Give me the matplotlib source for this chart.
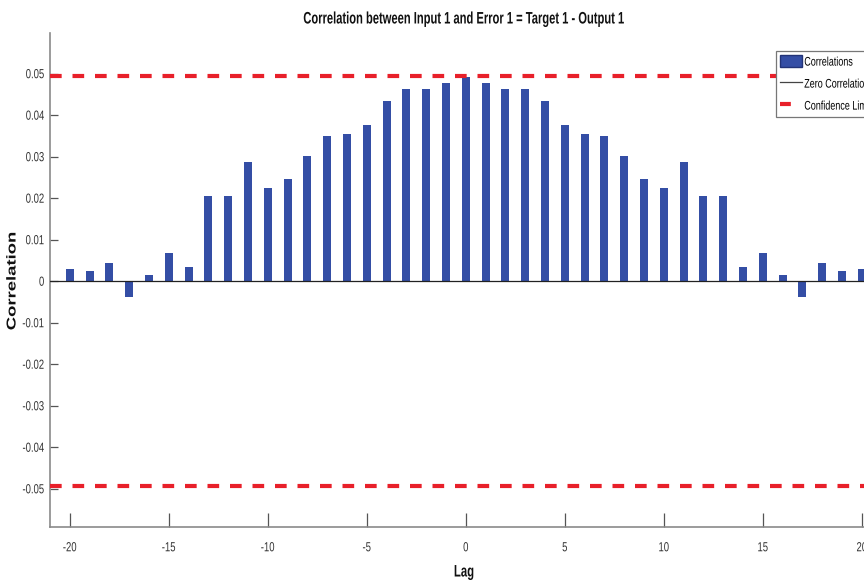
import numpy as np
import matplotlib
matplotlib.use('Agg')
import matplotlib.pyplot as plt
import matplotlib.patheffects as pe
from matplotlib.transforms import Affine2D
from matplotlib.lines import Line2D
from matplotlib.patches import Patch

lags = np.arange(-20, 21)
# correlation for lags 0..20, mirrored for the negative side
half = [0.0492, 0.0478, 0.0462, 0.0462, 0.0435, 0.0376, 0.0355, 0.0349,
        0.0302, 0.0247, 0.0224, 0.0287, 0.0206, 0.0206, 0.0035, 0.0067,
        0.0015, -0.0039, 0.0043, 0.0024, 0.0030]
corr = half[:0:-1] + half
conf_limit = 0.0494
legend_labels = ['Correlations', 'Zero Correlation', 'Confidence Limit']


class Squeeze(pe.AbstractPathEffect):
    """Narrow the glyphs horizontally (the reference uses a condensed face)."""
    def __init__(self, sx=0.7, anchor=0.5):
        super().__init__()
        self.sx = sx
        self.anchor = anchor

    def draw_path(self, renderer, gc, tpath, affine, rgbFace=None):
        ext = tpath.get_extents(affine)
        cx = ext.x0 + self.anchor * ext.width
        t = affine + Affine2D().translate(-cx, 0).scale(self.sx, 1).translate(cx, 0)
        renderer.draw_path(gc, tpath, t, rgbFace)


plt.rcParams['font.family'] = ['Liberation Sans', 'DejaVu Sans']
plt.rcParams['axes.unicode_minus'] = False

fig = plt.figure(figsize=(8.64, 5.8), dpi=100)
ax = fig.add_axes([50 / 864, 53 / 580, 831.6 / 864, 494 / 580])

bar_color = '#344ea5'
ax.bar(lags, corr, width=0.4, color=bar_color, edgecolor='none', zorder=2)
ax.axhline(0, color='#222222', lw=0.9, zorder=3)
dash = dict(color='#e8202a', lw=3.0, dashes=(2.8, 2.6), zorder=4)
ax.axhline(conf_limit, **dash)
ax.axhline(-conf_limit, **dash)

ax.set_xlim(-21, 21)
ax.set_ylim(-0.0592, 0.0598)
ax.set_xticks(np.arange(-20, 21, 5))
ax.set_yticks(np.arange(-0.05, 0.051, 0.01))
ax.set_yticklabels(['-0.05', '-0.04', '-0.03', '-0.02', '-0.01', '0',
                    '0.01', '0.02', '0.03', '0.04', '0.05'])

for s in ['top', 'right']:
    ax.spines[s].set_visible(False)
for s in ['left', 'bottom']:
    ax.spines[s].set_color('#8a8a8a')
    ax.spines[s].set_linewidth(1.2)
ax.tick_params(axis='x', direction='in', length=10, width=0.9, color='#555555',
               labelsize=9.5, labelcolor='#333333', pad=11)
ax.tick_params(axis='y', direction='in', length=6, width=0.9, color='#555555',
               labelsize=9.5, labelcolor='#333333', pad=4)
for lab in ax.get_xticklabels():
    lab.set_path_effects([Squeeze(0.72, 0.5)])
for lab in ax.get_yticklabels():
    lab.set_path_effects([Squeeze(0.72, 1.0)])

title = fig.text(463 / 864, 1 - 19 / 580,
                 'Correlation between Input 1 and Error 1 = Target 1 - Output 1',
                 ha='center', va='center', fontsize=12, fontweight='bold',
                 color='#111111')
title.set_path_effects([Squeeze(0.67)])
xl = fig.text(464 / 864, 1 - 572 / 580, 'Lag', ha='center', va='center',
              fontsize=12, fontweight='bold', color='#111111')
xl.set_path_effects([Squeeze(0.68)])
yl = fig.text(13 / 864, 1 - 281 / 580, 'Correlation', ha='center', va='center',
              rotation=90, fontsize=13.3, fontweight='bold', color='#111111')
yl.set_path_effects([Squeeze(0.7)])

handles = [Patch(facecolor=bar_color, edgecolor='#223377'),
           Line2D([], [], color='#444444', lw=0.9),
           Line2D([], [], color='#e8202a', lw=3.0, dashes=(2.6, 10))]
leg = ax.legend(handles, legend_labels, loc='lower left',
                bbox_to_anchor=(0.873, 0.83), fontsize=9, frameon=True,
                fancybox=False, framealpha=1, edgecolor='#777777',
                handlelength=1.7, handleheight=1.1, borderpad=0.35,
                labelspacing=0.7, handletextpad=0.2, borderaxespad=0)
leg.get_frame().set_linewidth(0.9)
for t in leg.get_texts():
    t.set_path_effects([Squeeze(0.72, 0.0)])

fig.savefig('out.png', dpi=100)
